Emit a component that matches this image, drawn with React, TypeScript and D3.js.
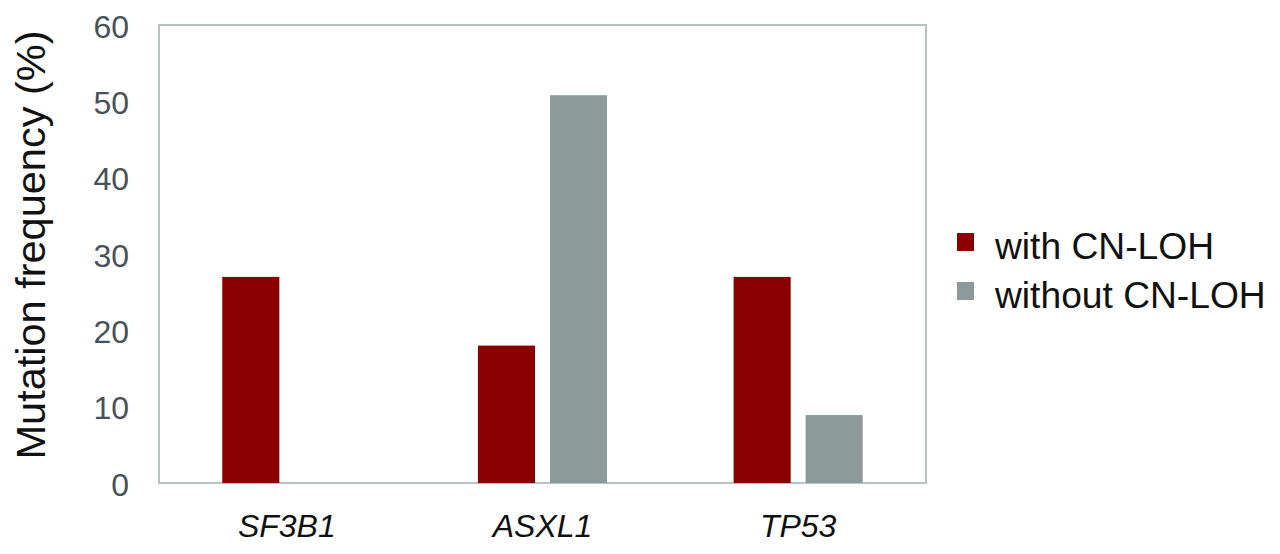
import React from "react";
import * as d3 from "d3";

const categories = ["SF3B1", "ASXL1", "TP53"];
const seriesNames = ["with CN-LOH", "without CN-LOH"];
const withCNLOH = [27.0, 18.0, 27.0];
const withoutCNLOH = [0, 50.8, 8.9];
const yTicks = [0, 10, 20, 30, 40, 50, 60];
const seriesColors = ["#8b0000", "#8c9a99"];

const W = 1280;
const H = 554;
const plot = { left: 159, right: 926, top: 25, bottom: 483 };

export default function App() {
  const y = d3.scaleLinear().domain([0, 60]).range([plot.bottom, plot.top]);
  const x0 = d3
    .scaleBand<string>()
    .domain(categories)
    .range([plot.left, plot.right])
    .paddingInner(0.495)
    .paddingOuter(0.2475);
  const x1 = d3
    .scaleBand<string>()
    .domain(seriesNames)
    .range([0, x0.bandwidth()])
    .paddingInner(0.208)
    .paddingOuter(0);
  const values = [withCNLOH, withoutCNLOH];
  const font = "'Liberation Sans', Arial, sans-serif";

  return (
    <svg
      width={W}
      height={H}
      style={{ position: "absolute", left: 0, top: 0, background: "#fff" }}
      fontFamily={font}
    >
      <rect x={0} y={0} width={W} height={H} fill="#fff" />
      {/* plot frame */}
      <rect
        x={plot.left}
        y={plot.top}
        width={plot.right - plot.left}
        height={plot.bottom - plot.top}
        fill="none"
        stroke="#b9c3c1"
        strokeWidth={2}
      />
      {/* bars */}
      {categories.map((c, i) => (
        <g key={c} transform={`translate(${x0(c)},0)`}>
          {seriesNames.map((s, j) => {
            const v = values[j][i];
            if (v <= 0) return null;
            return (
              <rect
                key={s}
                x={x1(s)}
                y={y(v)}
                width={x1.bandwidth()}
                height={y(0) - y(v)}
                fill={seriesColors[j]}
              />
            );
          })}
        </g>
      ))}
      {/* y tick labels */}
      {yTicks.map((t) => (
        <text
          key={t}
          x={129}
          y={y(t) + 12.5}
          textAnchor="end"
          fontSize={32}
          fill="#47525a"
        >
          {t}
        </text>
      ))}
      {/* x category labels */}
      {categories.map((c) => (
        <text
          key={c}
          x={(x0(c) as number) + x0.bandwidth() / 2}
          y={537}
          textAnchor="middle"
          fontSize={32}
          fontStyle="italic"
          fill="#111"
        >
          {c}
        </text>
      ))}
      {/* y axis title */}
      <text
        transform={`translate(45,${245}) rotate(-90)`}
        textAnchor="middle"
        fontSize={41.5}
        fill="#111"
      >
        Mutation frequency (%)
      </text>
      {/* legend */}
      {seriesNames.map((s, j) => (
        <g key={s} transform={`translate(957,${233 + j * 49})`}>
          <rect x={0} y={0} width={17} height={18} fill={seriesColors[j]} />
          <text x={38} y={26} fontSize={37.2} fill="#111">
            {s}
          </text>
        </g>
      ))}
    </svg>
  );
}
